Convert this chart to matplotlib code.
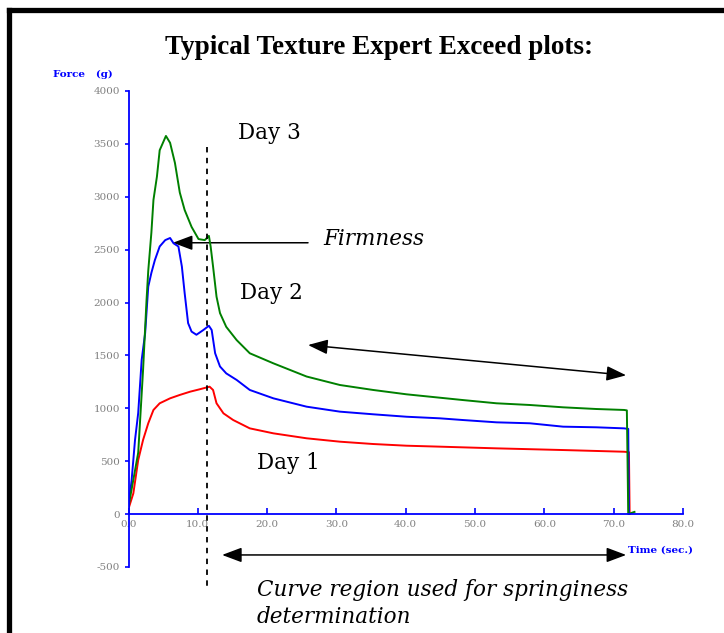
import matplotlib
matplotlib.use('Agg')
import matplotlib.pyplot as plt
from matplotlib.lines import Line2D
from matplotlib.patches import FancyArrowPatch

# ---- data: force (g) vs time (s) for the three storage days ----
day3_t = [0, 1.4, 2.1, 2.6, 2.85, 3.3, 3.6, 4.1, 4.5, 5.4, 6.0, 6.7, 7.4, 8.1, 9.1, 10.1,
          11.0, 11.6, 11.85, 12.2, 12.7, 13.2, 14.1, 15.6, 17.5, 20.9, 25.7, 30.5, 35.3,
          40.1, 44.9, 48.2, 53.1, 57.9, 62.7, 67.5, 71.5, 71.9, 72.0, 72.1, 73.0]
day3_f = [70, 580, 1360, 2020, 2300, 2660, 2970, 3190, 3440, 3575, 3510, 3320, 3040, 2875,
          2715, 2600, 2590, 2630, 2530, 2340, 2055, 1900, 1770, 1645, 1520, 1425, 1300,
          1220, 1173, 1132, 1100, 1078, 1047, 1031, 1009, 993, 984, 980, 500, 0, 20]

day2_t = [0, 0.45, 0.94, 1.4, 1.9, 2.4, 2.85, 3.3, 3.8, 4.5, 5.3, 6.0, 6.5, 7.2, 7.7, 8.1,
          8.6, 9.1, 9.8, 10.8, 11.6, 12.0, 12.5, 13.2, 14.1, 15.6, 17.5, 20.9, 25.7, 30.5,
          35.3, 40.1, 44.9, 48.2, 53.1, 57.9, 62.7, 67.5, 71.5, 72.1, 72.2]
day2_f = [70, 320, 700, 955, 1457, 1710, 2150, 2280, 2400, 2530, 2590, 2610, 2560, 2530,
          2340, 2090, 1805, 1725, 1695, 1740, 1780, 1740, 1520, 1395, 1330, 1268, 1173,
          1094, 1015, 968, 943, 920, 905, 889, 867, 858, 826, 820, 810, 805, 0]

day1_t = [0, 0.7, 1.4, 2.1, 2.85, 3.6, 4.5, 6.0, 7.4, 8.9, 10.3, 11.7, 12.2, 12.7, 13.7,
          15.1, 17.5, 20.9, 25.7, 30.5, 35.3, 40.1, 44.9, 53.1, 62.7, 71.5, 72.2, 72.3]
day1_f = [50, 196, 510, 700, 858, 984, 1047, 1094, 1126, 1157, 1180, 1204, 1173, 1047, 952,
          889, 810, 763, 716, 684, 662, 646, 637, 621, 605, 589, 585, 0]

x_ticks = [0, 10, 20, 30, 40, 50, 60, 70, 80]
y_ticks = [-500, 0, 500, 1000, 1500, 2000, 2500, 3000, 3500, 4000]

W, H = 724, 633
fig = plt.figure(figsize=(W / 100, H / 100), dpi=100)
fig.patch.set_facecolor('white')

# thick black frame (left and top edges)
fig.add_artist(Line2D([9 / W, 9 / W], [0, 1 - 9.5 / H], color='black', lw=3.8,
                      transform=fig.transFigure, solid_capstyle='projecting'))
fig.add_artist(Line2D([9 / W, 1], [1 - 9.5 / H, 1 - 9.5 / H], color='black', lw=3.8,
                      transform=fig.transFigure, solid_capstyle='projecting'))

ax = fig.add_axes([128.5 / W, (H - 566.9) / H, 554.5 / W, 475.9 / H])
ax.set_xlim(0, 80)
ax.set_ylim(-500, 4000)

for s in ['top', 'right']:
    ax.spines[s].set_visible(False)
ax.spines['left'].set_color('#0000ff')
ax.spines['bottom'].set_color('#0000ff')
ax.spines['bottom'].set_position(('data', 0))
ax.spines['left'].set_linewidth(1.3)
ax.spines['bottom'].set_linewidth(1.3)

tick_font = dict(family='DejaVu Serif', size=7.5, color='#808080')
ax.set_xticks(x_ticks)
ax.set_xticklabels([f'{v:.1f}' for v in x_ticks], **tick_font)
ax.set_yticks(y_ticks)
ax.set_yticklabels([str(v) for v in y_ticks], **tick_font)
ax.tick_params(axis='x', direction='in', length=4, width=1.2, color='#0000ff', pad=4)
ax.tick_params(axis='y', direction='out', length=3, width=1.2, color='#0000ff', pad=3)

ax.plot(day1_t, day1_f, color='#ff0000', lw=1.4)
ax.plot(day2_t, day2_f, color='#0000ff', lw=1.4)
ax.plot(day3_t, day3_f, color='#008000', lw=1.4)

# dashed marker at the firmness peak
ax.plot([11.3, 11.3], [3470, -720], color='black', lw=1.3, ls=(0, (3, 3)), clip_on=False)

day_font = dict(family='DejaVu Serif', size=15.5, color='black')
ax.text(20.4, 3603, 'Day 3', ha='center', va='center', **day_font)
ax.text(20.6, 2090, 'Day 2', ha='center', va='center', **day_font)
ax.text(23.0, 482, 'Day 1', ha='center', va='center', **day_font)

ital = dict(family='DejaVu Serif', style='italic', size=15.5, color='black')
ax.text(28.1, 2600, 'Firmness', ha='left', va='center', **ital)
ax.text(18.5, -612, 'Curve region used for springiness\ndetermination', ha='left',
        va='top', linespacing=1.32, clip_on=False, **ital)


def arrow(p0, p1, style):
    a = FancyArrowPatch(p0, p1, arrowstyle=style, mutation_scale=10, color='black',
                        lw=1.1, shrinkA=0, shrinkB=0, clip_on=False)
    ax.add_patch(a)


arrow((25.9, 2565), (6.4, 2565), '-|>,head_length=1.2,head_width=0.45')
arrow((25.9, 1598), (71.8, 1312), '<|-|>,head_length=1.2,head_width=0.45')
arrow((13.5, -387), (71.8, -387), '<|-|>,head_length=1.2,head_width=0.45')

lab_font = dict(family='DejaVu Serif', size=7.5, color='#0000ff', fontweight='bold')
ax.text(-10.9, 4160, 'Force   (g)', ha='left', va='center', clip_on=False, **lab_font)
ax.text(72.1, -340, 'Time (sec.)', ha='left', va='center', clip_on=False, **lab_font)

fig.text(379 / W, 1 - 47 / H, 'Typical Texture Expert Exceed plots:', ha='center',
         va='center', family='Liberation Serif', fontweight='bold', size=19.5)

fig.savefig('out.png', dpi=100, facecolor='white')
plt.close(fig)
